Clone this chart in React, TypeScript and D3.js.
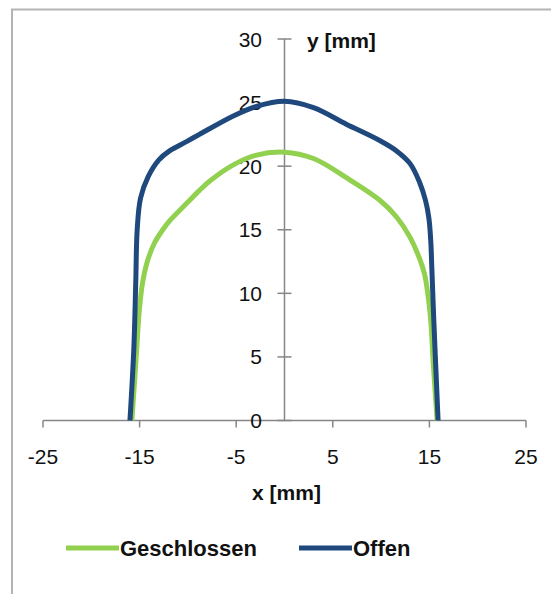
import React from 'react';
import * as d3 from 'd3';

const W = 551;
const H = 594;

// Offen (blue)
const offenX = [-16.0, -15.6, -15.4, -15.25, -14.9, -14.1, -13.0, -11.9, -10.1, -8.8, -5.3, -2.9, 0, 3.0, 6.4, 9.9, 11.6, 13.0, 14.0, 14.6, 14.95, 15.15, 15.25, 15.45, 15.9];
const offenY = [0, 5.6, 10.8, 15.0, 17.5, 19.2, 20.5, 21.2, 21.95, 22.5, 23.95, 24.7, 25.1, 24.6, 23.3, 22.0, 21.2, 20.2, 18.7, 17.3, 15.9, 14.0, 12.0, 8.0, 0];

// Geschlossen (green)
const geschX = [-15.8, -15.35, -15.05, -14.7, -14.2, -13.5, -12.6, -11.9, -10.1, -8.8, -7.7, -5.3, -3.0, 0, 3.0, 6.4, 9.9, 11.6, 13.0, 14.0, 14.5, 15.1, 15.4, 15.8];
const geschY = [0, 5.0, 8.5, 10.8, 12.5, 13.9, 15.0, 15.7, 17.1, 18.1, 18.85, 20.1, 20.85, 21.1, 20.6, 19.1, 17.3, 16.0, 14.4, 12.7, 11.5, 8.2, 4.5, 0];

const xTicks = [-25, -15, -5, 5, 15, 25];
const yTicks = [0, 5, 10, 15, 20, 25, 30];

const seriesNames = ['Geschlossen', 'Offen'];
const seriesColors = ['#92d050', '#1f497d'];

export default function App() {
  const x = d3.scaleLinear().domain([-25, 25]).range([43, 526]);
  const y = d3.scaleLinear().domain([0, 30]).range([420.5, 39]);

  const line = d3
    .line<[number, number]>()
    .x((d) => x(d[0]))
    .y((d) => y(d[1]))
    .curve(d3.curveCatmullRom.alpha(0.5));

  const gesch = geschX.map((v, i) => [v, geschY[i]] as [number, number]);
  const offen = offenX.map((v, i) => [v, offenY[i]] as [number, number]);

  const axisColor = '#868686';
  const font = '"Liberation Sans", Arial, sans-serif';

  return (
    <svg
      width={W}
      height={H}
      style={{ position: 'absolute', left: 0, top: 0, background: '#fff' }}
      fontFamily={font}
    >
      <rect x={12} y={9.5} width={W + 20} height={H + 20} fill="#fff" stroke="#b4b4b4" strokeWidth={2} />

      {/* x axis */}
      <line x1={x(-25)} x2={x(25)} y1={y(0)} y2={y(0)} stroke={axisColor} strokeWidth={1.5} />
      {xTicks.map((t) => (
        <g key={'xt' + t}>
          <line x1={x(t)} x2={x(t)} y1={y(0)} y2={y(0) + 7} stroke={axisColor} strokeWidth={1.5} />
          <text x={x(t)} y={y(0) + 43} textAnchor="middle" fontSize={21} fill="#111">
            {t}
          </text>
        </g>
      ))}

      {/* y axis */}
      <line x1={x(0)} x2={x(0)} y1={y(0)} y2={y(30)} stroke={axisColor} strokeWidth={1.5} />
      {yTicks.map((t) => (
        <g key={'yt' + t}>
          <line x1={x(0) - 7} x2={x(0) + 7} y1={y(t)} y2={y(t)} stroke={axisColor} strokeWidth={1.5} />
          <text x={262} y={y(t)} dy="0.36em" textAnchor="end" fontSize={21} fill="#111">
            {t}
          </text>
        </g>
      ))}

      <text x={307} y={48} fontSize={21} fontWeight="bold" fill="#111">
        y [mm]
      </text>
      <text x={x(0) + 2} y={500} textAnchor="middle" fontSize={21} fontWeight="bold" fill="#111">
        x [mm]
      </text>

      <path d={line(gesch) || ''} fill="none" stroke={seriesColors[0]} strokeWidth={5} strokeLinejoin="round" />
      <path d={line(offen) || ''} fill="none" stroke={seriesColors[1]} strokeWidth={5} strokeLinejoin="round" />

      {/* legend */}
      {seriesNames.map((name, i) => {
        const lx = i === 0 ? 66 : 299;
        return (
          <g key={name}>
            <line x1={lx} x2={lx + 53} y1={548} y2={548} stroke={seriesColors[i]} strokeWidth={5} />
            <text x={lx + 54} y={556} fontSize={22} fontWeight="bold" fill="#111">
              {name}
            </text>
          </g>
        );
      })}
    </svg>
  );
}
